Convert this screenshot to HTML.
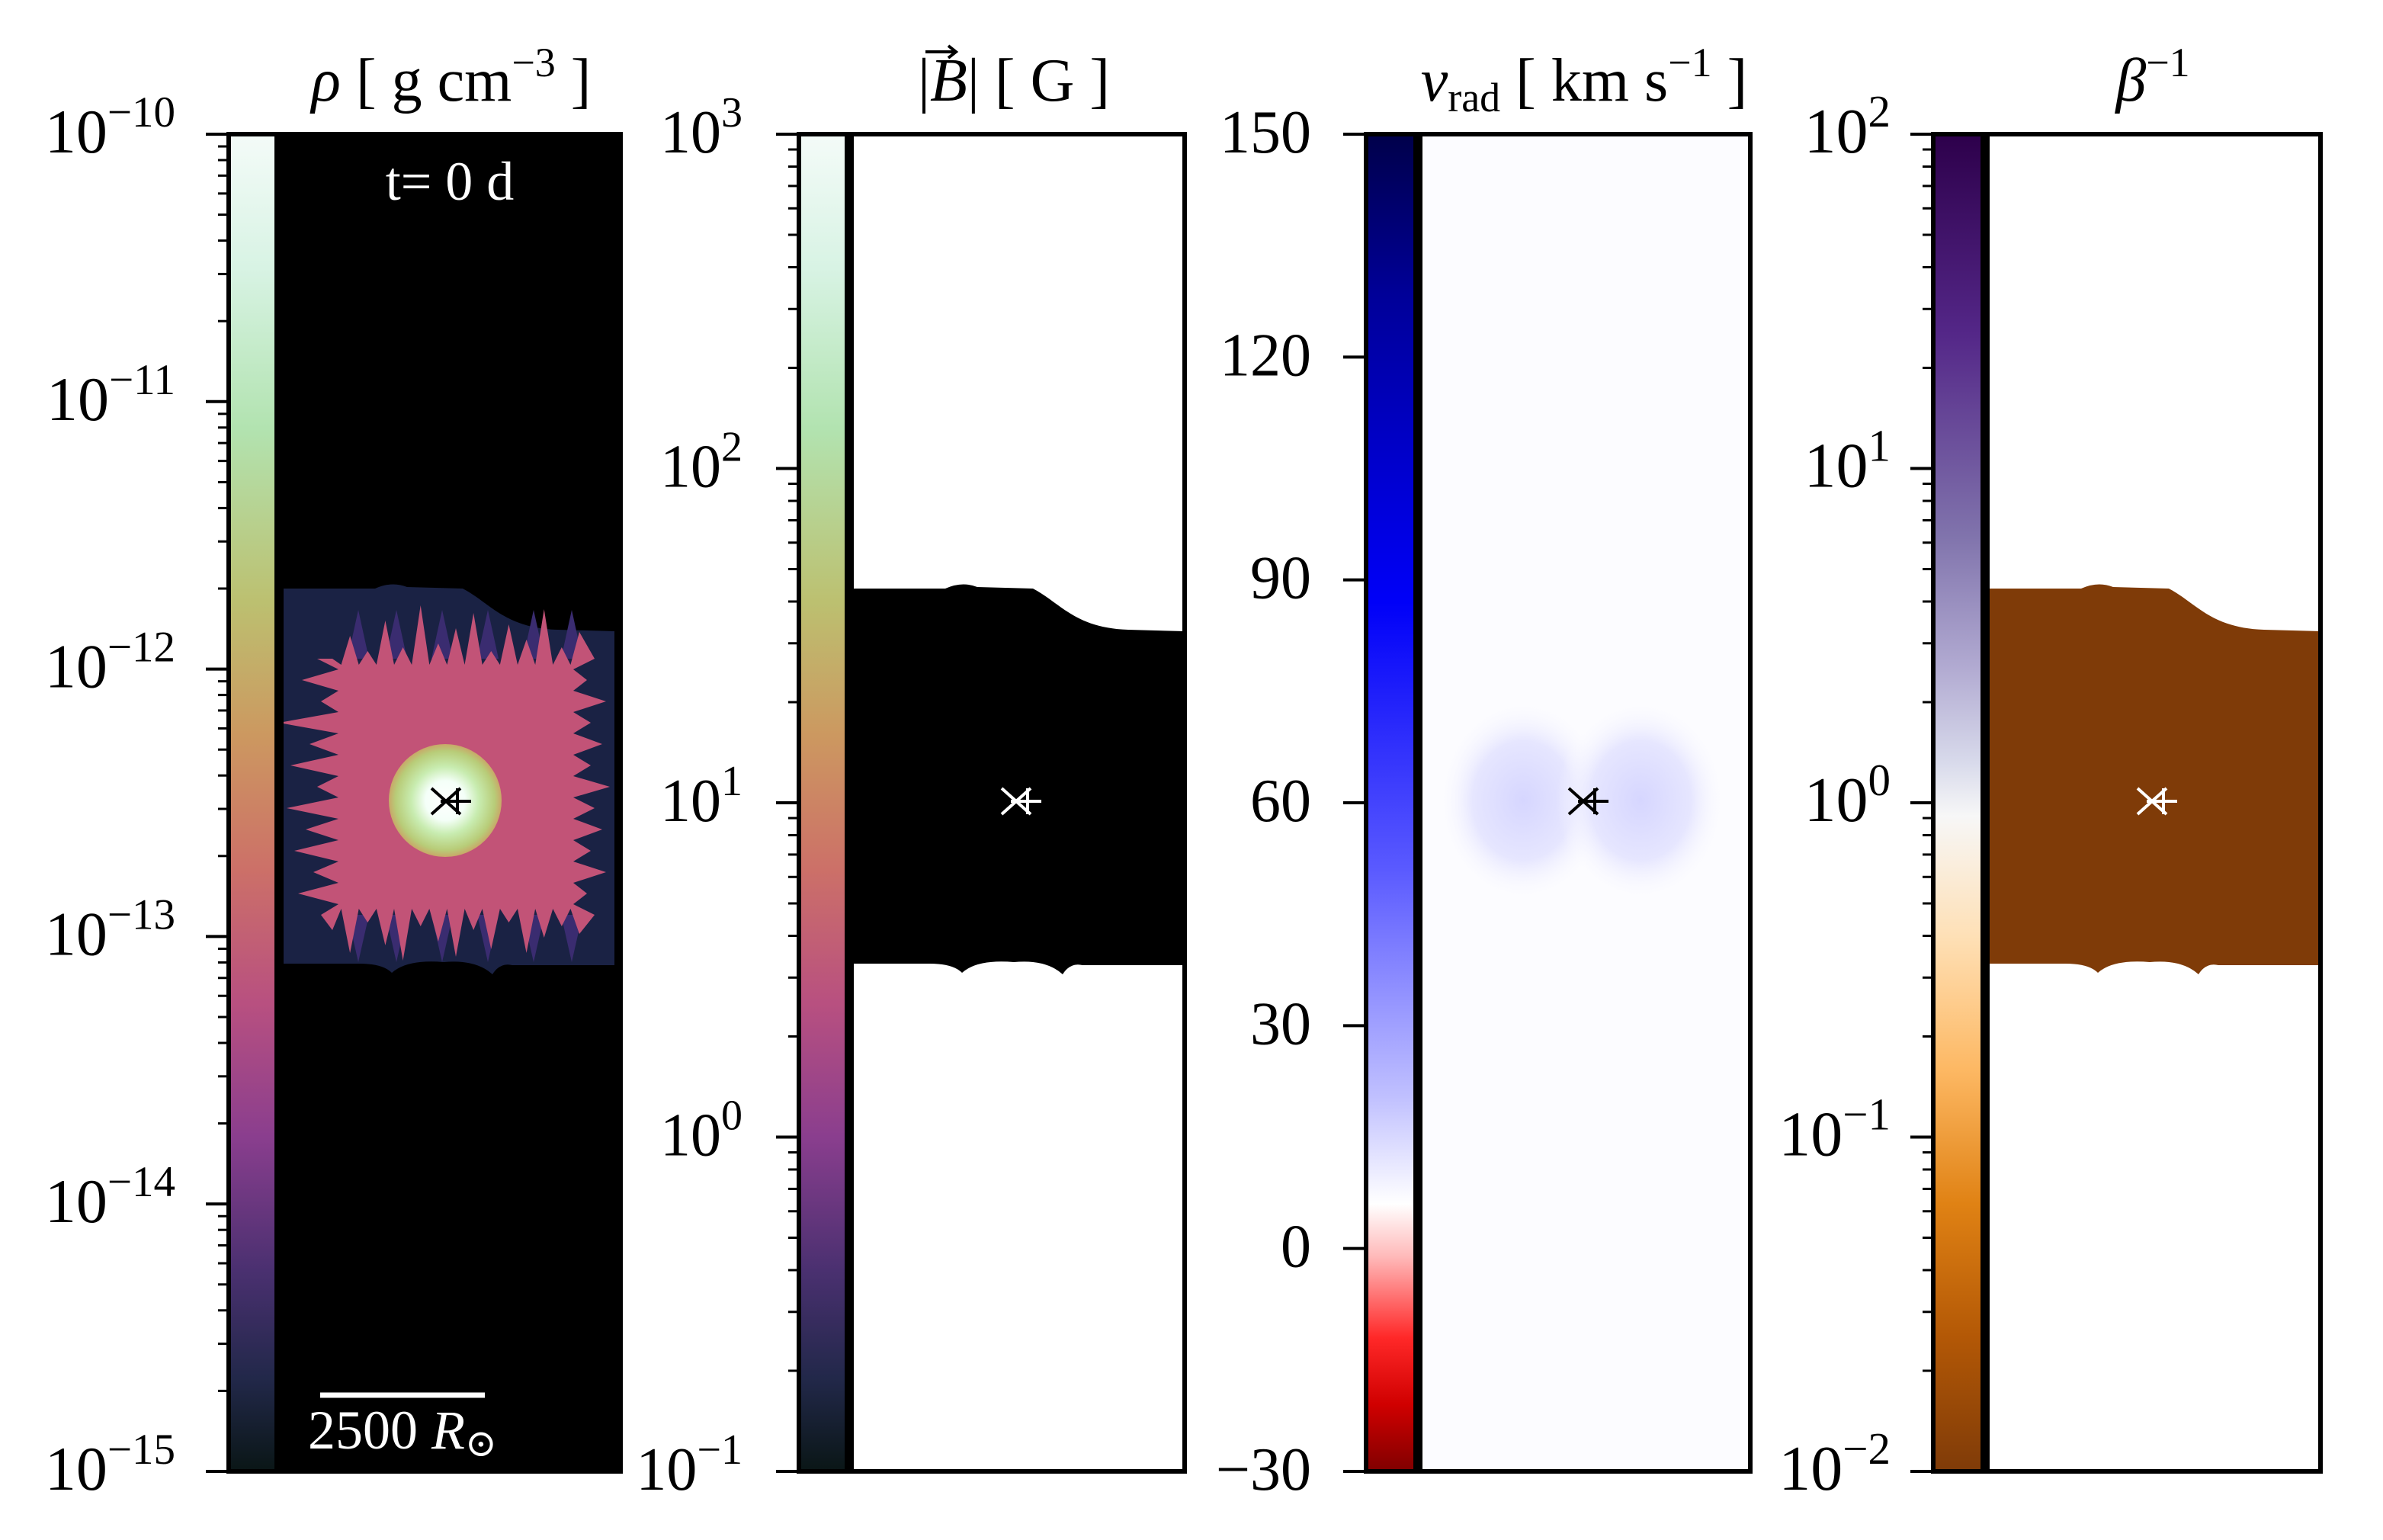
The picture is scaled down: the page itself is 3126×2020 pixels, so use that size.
<!DOCTYPE html>
<html><head><meta charset="utf-8">
<style>
html,body{margin:0;padding:0;background:#fff;}
svg{display:block;font-family:"Liberation Serif","DejaVu Serif",serif;}
</style></head>
<body>
<svg id="fig" width="3126" height="2020" viewBox="0 0 3126 2020" xmlns="http://www.w3.org/2000/svg">
<defs>
<clipPath id="clip1"><rect x="366" y="176" width="448" height="1754"/></clipPath>
<linearGradient id="cmHelix" x1="0" y1="0" x2="0" y2="1">
<stop offset="0" stop-color="#f4fbf8"/><stop offset="0.1" stop-color="#d8f3e4"/>
<stop offset="0.22" stop-color="#b2e3b0"/><stop offset="0.35" stop-color="#bcc070"/>
<stop offset="0.45" stop-color="#cc9860"/><stop offset="0.55" stop-color="#cc7068"/>
<stop offset="0.65" stop-color="#b85080"/><stop offset="0.75" stop-color="#8a3e8e"/>
<stop offset="0.85" stop-color="#4a3070"/><stop offset="0.93" stop-color="#22284a"/>
<stop offset="1" stop-color="#0a1616"/>
</linearGradient>
<linearGradient id="cmSeis" x1="0" y1="0" x2="0" y2="1">
<stop offset="0" stop-color="#00004a"/><stop offset="0.12" stop-color="#000098"/>
<stop offset="0.35" stop-color="#0000f8"/><stop offset="0.55" stop-color="#5a5aff"/>
<stop offset="0.72" stop-color="#c0c0ff"/><stop offset="0.8" stop-color="#ffffff"/>
<stop offset="0.84" stop-color="#ffb8b8"/><stop offset="0.9" stop-color="#ff2828"/>
<stop offset="0.95" stop-color="#d00000"/><stop offset="1" stop-color="#800000"/>
</linearGradient>
<linearGradient id="cmPuOr" x1="0" y1="0" x2="0" y2="1">
<stop offset="0" stop-color="#2d004b"/><stop offset="0.15" stop-color="#542788"/>
<stop offset="0.3" stop-color="#8073ac"/><stop offset="0.4" stop-color="#b2abd2"/>
<stop offset="0.47" stop-color="#d8daeb"/><stop offset="0.51" stop-color="#f7f7f7"/>
<stop offset="0.6" stop-color="#fee0b6"/><stop offset="0.7" stop-color="#fdb863"/>
<stop offset="0.8" stop-color="#e08214"/><stop offset="0.9" stop-color="#b35806"/>
<stop offset="1" stop-color="#7f3b08"/>
</linearGradient>
<radialGradient id="core" cx="0.5" cy="0.5" r="0.5">
<stop offset="0" stop-color="#ffffff"/><stop offset="0.35" stop-color="#f4fff8"/>
<stop offset="0.6" stop-color="#c8ecb0"/><stop offset="0.88" stop-color="#b8cc78"/>
<stop offset="1" stop-color="#c8a868"/>
</radialGradient>
<radialGradient id="blueblob" cx="0.5" cy="0.5" r="0.5">
<stop offset="0" stop-color="#d6d6ff"/><stop offset="0.6" stop-color="#e6e6ff"/>
<stop offset="1" stop-color="#fbfbff" stop-opacity="0"/>
</radialGradient>
<path id="shape" d="M1114,772 L1240,772 Q1262,762 1282,770 L1355,772 C1390,790 1410,824 1480,826 L1554,828 L1554,1266 L1420,1266 Q1404,1262 1394,1278 Q1372,1258 1330,1262 Q1282,1258 1262,1276 Q1250,1264 1220,1264 L1114,1264 Z"/>
</defs>

<!-- Panel 1 -->
<g clip-path="url(#clip1)">
<rect x="366" y="176" width="448" height="1754" fill="#000"/>
<use href="#shape" transform="translate(-748,0)" fill="#1a2244"/>
<g id="streaks"></g>
<polygon id="pinkpoly" fill="#c25377"/>
<circle cx="584" cy="1050" r="74" fill="url(#core)"/>
<text x="590" y="262" font-size="72" fill="#fff" text-anchor="middle">t= 0 d</text>
<line x1="420" y1="1830" x2="636" y2="1830" stroke="#fff" stroke-width="7"/>
<text x="528" y="1900" font-size="72" fill="#fff" text-anchor="middle">2500 <tspan font-style="italic">R</tspan><tspan font-size="50" dy="10">⊙</tspan></text>
</g>
<!-- Panel 2 -->
<g>
<rect x="1114" y="176" width="440" height="1754" fill="#fff"/>
<use href="#shape" fill="#000"/>
</g>
<!-- Panel 3 -->
<g>
<rect x="1860" y="176" width="436" height="1754" fill="#fcfcff"/>
<ellipse cx="1998" cy="1050" rx="110" ry="130" fill="url(#blueblob)"/>
<ellipse cx="2152" cy="1050" rx="110" ry="130" fill="url(#blueblob)"/>
</g>
<!-- Panel 4 -->
<g>
<rect x="2604" y="176" width="440" height="1754" fill="#fff"/>
<use href="#shape" transform="translate(1490,0)" fill="#7f3b08"/>
</g>

<g id="axes"></g>

<!-- Titles -->
<text x="592" y="132" font-size="80" text-anchor="middle"><tspan font-style="italic">ρ</tspan> [ g cm<tspan font-size="54" dy="-32">−3</tspan><tspan dy="32"> ]</tspan></text>
<text x="1330" y="132" font-size="80" text-anchor="middle">|<tspan font-style="italic">B</tspan>| [ G ]</text>
<g stroke="#000" stroke-width="4" fill="none">
<path d="M1214,68 L1254,68 M1244,60 L1254,68 L1244,76"/>
</g>
<text x="2078" y="132" font-size="80" text-anchor="middle"><tspan font-style="italic">v</tspan><tspan font-size="54" dy="14">rad</tspan><tspan dy="-14"> [ km s</tspan><tspan font-size="54" dy="-32">−1</tspan><tspan dy="32"> ]</tspan></text>
<text x="2824" y="132" font-size="80" text-anchor="middle"><tspan font-style="italic">β</tspan><tspan font-size="54" dy="-32">−1</tspan></text>
</svg>

<script>
// ---- data ----
const densityTicks = [-10, -11, -12, -13, -14, -15];      // log10 rho
const bfieldTicks = [3, 2, 1, 0, -1];                      // log10 |B|
const vradTicks = [150, 120, 90, 60, 30, 0, -30];          // km/s
const betaTicks = [2, 1, 0, -1, -2];                       // log10 beta^-1
const densityRange = [-15, -10];
const bfieldRange = [-1, 3];
const vradRange = [-30, 150];
const betaRange = [-2, 2];

const NS = 'http://www.w3.org/2000/svg';
const TOP = 176, BOT = 1930, H = BOT - TOP;
const axes = document.getElementById('axes');
function mk(tag, attrs, parent){ const e = document.createElementNS(NS, tag); for (const k in attrs) e.setAttribute(k, attrs[k]); (parent||axes).appendChild(e); return e; }
function yScale(v, r){ return TOP + (r[1] - v) / (r[1] - r[0]) * H; }

const panels = [
  {cx:300, ix:366, iw:448, grad:'cmHelix', ticks:densityTicks, range:densityRange, log:true, lx:230, fs:82, name:'density'},
  {cx:1048, ix:1114, iw:440, grad:'cmHelix', ticks:bfieldTicks, range:bfieldRange, log:true, lx:974, fs:80, name:'bfield'},
  {cx:1792, ix:1860, iw:436, grad:'cmSeis', ticks:vradTicks, range:vradRange, log:false, lx:1720, fs:80, name:'vrad'},
  {cx:2536, ix:2604, iw:440, grad:'cmPuOr', ticks:betaTicks, range:betaRange, log:true, lx:2480, fs:84, name:'beta'}
];
const markerColors = ['#000', '#fff', '#000', '#fff'];

panels.forEach(p => {
  const cb = mk('rect', {x:p.cx, y:TOP, width:p.ix - p.cx, height:H, fill:'url(#'+p.grad+')', stroke:'#000', 'stroke-width':6});
  
  
  const fr = mk('rect', {x:p.ix, y:TOP, width:p.iw, height:H, fill:'none', stroke:'#000', 'stroke-width':6});
  
  
  const sep = mk('line', {x1:p.ix, y1:TOP, x2:p.ix, y2:BOT, stroke:'#000', 'stroke-width':12});
  
  
  if (p.log) {
    for (let d = p.range[0]; d < p.range[1]; d++) {
      for (let k = 2; k <= 9; k++) {
        const y = yScale(d + Math.log10(k), p.range);
        const t = mk('line', {x1:p.cx - 14, y1:y, x2:p.cx, y2:y, stroke:'#000', 'stroke-width':3});
        
        
      }
    }
  }
  p.ticks.forEach(v => {
    const y = yScale(v, p.range);
    const t = mk('line', {x1:p.cx - 30, y1:y, x2:p.cx, y2:y, stroke:'#000', 'stroke-width':4});
    
    
    const tx = mk('text', {x:p.lx, y:y + 24, 'font-size':p.fs, 'text-anchor':'end', fill:'#000'});
    
    
    if (p.log) {
      const a = document.createElementNS(NS, 'tspan'); a.textContent = '10'; tx.appendChild(a);
      const b = document.createElementNS(NS, 'tspan');
      b.setAttribute('font-size', String(Math.round(p.fs * 0.7))); b.setAttribute('dy', '-34');
      b.textContent = v < 0 ? '−' + Math.abs(v) : String(v);
      tx.appendChild(b);
    } else {
      tx.textContent = v < 0 ? '−' + Math.abs(v) : String(v);
    }
  });
});

// markers (star positions)
const markerX = [584, 1332, 2076, 2822];
markerX.forEach((x, i) => {
  const g = mk('g', {stroke:markerColors[i], 'stroke-width':4, fill:'none'});
  
  
  mk('path', {d:`M${x-18},1034 L${x+20},1068 M${x-18},1068 L${x+20},1034`}, g);
  mk('path', {d:`M${x-6},1051 L${x+34},1051 M${x+16},1034 L${x+16},1068`}, g);
});

// decorative spiky pink region (panel 1)
const spikeTop = [0,30,10,50,15,70,20,40,60,10,45,25,65,15,35];
const spikeBot = [20,50,10,40,60,15,35,55,20,45,10,50,30,15,25];
const spikeLeft = [20,40,15,70,30,55,20,60,35,50,25,45,15];
const spikeRight = [20,10,35,15,30,15,40,20,30,15,35,10,20];
const L = 436, R = 760, T = 864, B = 1200;
let pts = [];
spikeTop.forEach((s, i) => { const x = L + (R - L) * i / (spikeTop.length - 1); pts.push([x, T - s]); if (i < spikeTop.length-1) pts.push([x + (R-L)/(spikeTop.length-1)/2, T + 8]); });
spikeRight.forEach((s, i) => { const y = T + (B - T) * i / (spikeRight.length - 1); pts.push([R + s, y]); if (i < spikeRight.length-1) pts.push([R - 8, y + (B-T)/(spikeRight.length-1)/2]); });
spikeBot.slice().reverse().forEach((s, i) => { const x = R - (R - L) * i / (spikeBot.length - 1); pts.push([x, B + s]); if (i < spikeBot.length-1) pts.push([x - (R-L)/(spikeBot.length-1)/2, B - 8]); });
spikeLeft.slice().reverse().forEach((s, i) => { const y = B - (B - T) * i / (spikeLeft.length - 1); pts.push([L - s, y]); if (i < spikeLeft.length-1) pts.push([L + 8, y - (B-T)/(spikeLeft.length-1)/2]); });
document.getElementById('pinkpoly').setAttribute('points', pts.map(p => p.join(',')).join(' '));

// streaks in the envelope
const streakG = document.getElementById('streaks');
const streakX = [470, 520, 580, 640, 700, 750];
streakX.forEach(x => {
  const s = mk('polygon', {points:`${x-14},${T} ${x+14},${T} ${x},800`, fill:'#3a2c70'}, streakG);
  
  
  const s2 = mk('polygon', {points:`${x-14},${B} ${x+14},${B} ${x},1262`, fill:'#3a2c70'}, streakG);
  
  
});
</script>
</body></html>
